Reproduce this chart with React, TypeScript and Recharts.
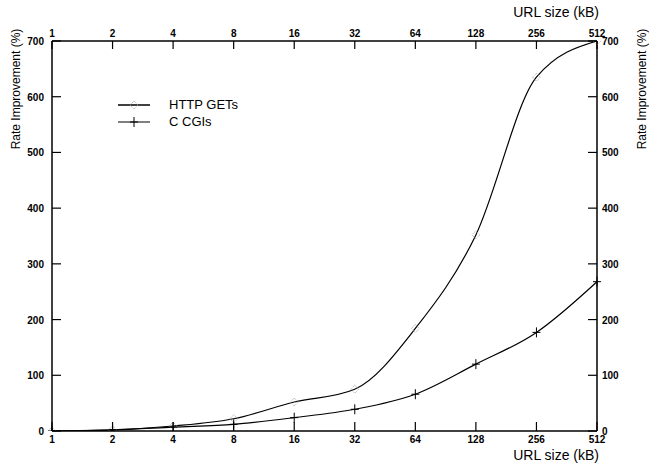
import React from 'react';
import { LineChart, Line, XAxis, YAxis, Legend } from 'recharts';

const urlSizes = [1, 2, 4, 8, 16, 32, 64, 128, 256, 512];
const httpGets = [0, 2, 9, 22, 52, 75, 184, 352, 635, 700];
const cCgis = [0, 2, 7, 12, 24, 39, 66, 120, 177, 268];
const yTicks = [0, 100, 200, 300, 400, 500, 600, 700];

// x is plotted on log2 of the size, so the octaves are evenly spaced
const data = urlSizes.map((s, i) => ({ lx: Math.log2(s), http: httpGets[i], cgi: cCgis[i] }));
const xTicks = urlSizes.map(s => Math.log2(s));

const FONT = '"Liberation Sans", Arial, Helvetica, sans-serif';
const tickFont = { fontFamily: FONT, fontSize: 10, fontWeight: 'bold' as const, fill: '#000' };
const labelFont = { fontFamily: FONT, fontSize: 13, fill: '#000' };

const fmtX = (v: number) => String(Math.round(Math.pow(2, v)));

// inward ticks: draw the mark and the label ourselves
const BottomTick = (props: any) => {
  const { x, y, payload } = props;
  return (
    <g>
      <line x1={x} y1={y} x2={x} y2={y - 9} stroke="#000" strokeWidth={1.2} />
      <text x={x} y={y + 12} textAnchor="middle" {...tickFont}>{fmtX(payload.value)}</text>
    </g>
  );
};

const TopTick = (props: any) => {
  const { x, y, payload } = props;
  return (
    <g>
      <line x1={x} y1={y} x2={x} y2={y + 8} stroke="#000" strokeWidth={1.2} />
      <text x={x} y={y - 4} textAnchor="middle" {...tickFont}>{fmtX(payload.value)}</text>
    </g>
  );
};

const LeftTick = (props: any) => {
  const { x, y, payload } = props;
  return (
    <g>
      <line x1={x} y1={y} x2={x + 9} y2={y} stroke="#000" strokeWidth={1.2} />
      <text x={x - 8} y={y + 4} textAnchor="end" {...tickFont}>{payload.value}</text>
    </g>
  );
};

const RightTick = (props: any) => {
  const { x, y, payload } = props;
  return (
    <g>
      <line x1={x} y1={y} x2={x - 9} y2={y} stroke="#000" strokeWidth={1.2} />
      <text x={x + 5} y={y + 4} textAnchor="start" {...tickFont}>{payload.value}</text>
    </g>
  );
};

const DiamondDot = (props: any) => {
  const { cx, cy, index } = props;
  if (cx == null || cy == null) return <g key={'d' + index} />;
  return (
    <path
      key={'d' + index}
      d={`M${cx},${cy - 4}L${cx + 4},${cy}L${cx},${cy + 4}L${cx - 4},${cy}Z`}
      fill="none"
      stroke="#aaa"
      strokeWidth={1}
      strokeDasharray="1 1"
    />
  );
};

const PlusDot = (props: any) => {
  const { cx, cy, index } = props;
  if (cx == null || cy == null) return <g key={'p' + index} />;
  return (
    <path key={'p' + index} d={`M${cx - 4},${cy}H${cx + 4}M${cx},${cy - 5}V${cy + 5}`} stroke="#000" strokeWidth={1} />
  );
};

const LegendBox = () => {
  const rows = [
    { name: 'HTTP GETs', marker: 'diamond' },
    { name: 'C CGIs', marker: 'plus' },
  ];
  return (
    <div>
      {rows.map(r => (
        <div key={r.name} style={{ display: 'flex', alignItems: 'center', height: 17 }}>
          <svg width={32} height={12} style={{ overflow: 'visible' }}>
            <line x1={0} y1={6} x2={32} y2={6} stroke="#000" strokeWidth={r.marker === 'diamond' ? 1.5 : 1} />
            {r.marker === 'diamond' ? (
              <DiamondDot cx={16} cy={6} index={0} />
            ) : (
              <PlusDot cx={16} cy={6} index={0} />
            )}
          </svg>
          <span style={{ marginLeft: 19, fontFamily: FONT, fontSize: 13, color: '#000' }}>{r.name}</span>
        </div>
      ))}
    </div>
  );
};

const XLabel = (dy: number) => (props: any) => {
  const { viewBox } = props;
  return (
    <text x={viewBox.x + viewBox.width + 2} y={viewBox.y + dy} textAnchor="end" {...labelFont} fontSize={14}>
      URL size (kB)
    </text>
  );
};

const YLabel = (dx: number) => (props: any) => {
  const { viewBox } = props;
  const cx = viewBox.x + dx;
  const cy = viewBox.y + 48;
  return (
    <text x={cx} y={cy} textAnchor="middle" dominantBaseline="central" transform={`rotate(-90 ${cx} ${cy})`} {...labelFont} fontSize={12}>
      Rate Improvement (%)
    </text>
  );
};

export default function App() {
  return (
    <div style={{ position: 'absolute', left: 0, top: 0, background: '#fff' }}>
      <LineChart width={649} height={465} data={data} margin={{ top: 0, right: 0, bottom: 0, left: 0 }}>
        <XAxis
          xAxisId="bottom"
          dataKey="lx"
          type="number"
          domain={[0, 9]}
          ticks={xTicks}
          interval={0}
          height={34}
          tickSize={0}
          tickMargin={0}
          tickLine={false}
          tick={<BottomTick />}
          axisLine={{ stroke: '#000', strokeWidth: 1.5 }}
          label={{ content: XLabel(29) }}
        />
        <XAxis
          xAxisId="top"
          orientation="top"
          dataKey="lx"
          type="number"
          domain={[0, 9]}
          ticks={xTicks}
          interval={0}
          height={41}
          tickSize={0}
          tickMargin={0}
          tickLine={false}
          tick={<TopTick />}
          axisLine={{ stroke: '#000', strokeWidth: 1.5 }}
          label={{ content: XLabel(17) }}
        />
        <YAxis
          yAxisId="left"
          domain={[0, 700]}
          ticks={yTicks}
          interval={0}
          allowDataOverflow
          width={52}
          tickSize={0}
          tickMargin={0}
          tickLine={false}
          tick={<LeftTick />}
          axisLine={{ stroke: '#000', strokeWidth: 1.5 }}
          label={{ content: YLabel(16) }}
        />
        <YAxis
          yAxisId="right"
          orientation="right"
          domain={[0, 700]}
          ticks={yTicks}
          interval={0}
          allowDataOverflow
          width={52}
          tickSize={0}
          tickMargin={0}
          tickLine={false}
          tick={<RightTick />}
          axisLine={{ stroke: '#000', strokeWidth: 1.5 }}
          label={{ content: YLabel(45) }}
        />
        <Legend
          verticalAlign="middle"
          align="center"
          layout="vertical"
          content={<LegendBox />}
          wrapperStyle={{ position: 'absolute', top: 96, left: 118, width: 'auto', height: 'auto' }}
        />
        <Line
          xAxisId="bottom"
          yAxisId="left"
          type="monotone"
          dataKey="http"
          name="HTTP GETs"
          stroke="#000"
          strokeWidth={1.2}
          dot={(p: any) => <DiamondDot {...p} key={'h' + p.index} />}
          activeDot={false}
          isAnimationActive={false}
        />
        <Line
          xAxisId="bottom"
          yAxisId="left"
          type="monotone"
          dataKey="cgi"
          name="C CGIs"
          stroke="#000"
          strokeWidth={1.2}
          dot={(p: any) => <PlusDot {...p} key={'c' + p.index} />}
          activeDot={false}
          isAnimationActive={false}
        />
      </LineChart>
    </div>
  );
}
